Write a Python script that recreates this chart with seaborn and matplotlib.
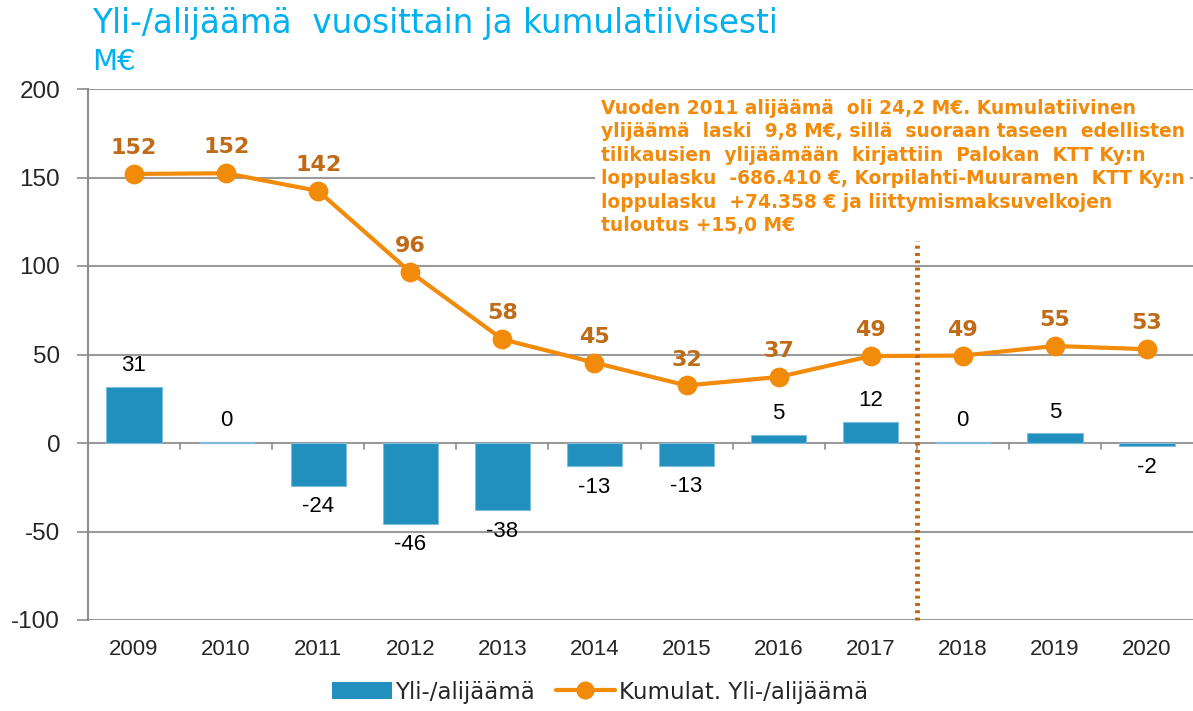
import matplotlib
matplotlib.use("Agg")
import matplotlib.pyplot as plt
import seaborn as sns
import pandas as pd
import numpy as np
from matplotlib.patches import Patch
from matplotlib.lines import Line2D

years = ["2009", "2010", "2011", "2012", "2013", "2014", "2015", "2016", "2017", "2018", "2019", "2020"]
annual = [31.6, 0.6, -24.2, -45.6, -38.0, -13.2, -12.8, 4.8, 11.8, 0.6, 5.4, -1.9]
cumulative = [152.0, 152.4, 142.4, 96.6, 58.6, 45.4, 32.5, 37.3, 49.1, 49.4, 54.8, 53.0]
annual_labels = ["31", "0", "-24", "-46", "-38", "-13", "-13", "5", "12", "0", "5", "-2"]
cum_labels = ["152", "152", "142", "96", "58", "45", "32", "37", "49", "49", "55", "53"]
yticks = [-100, -50, 0, 50, 100, 150, 200]

title = "Yli-/alijäämä  vuosittain ja kumulatiivisesti"
unit = "M€"
note = ("Vuoden 2011 alijäämä  oli 24,2 M€. Kumulatiivinen\n"
        "ylijäämä  laski  9,8 M€, sillä  suoraan taseen  edellisten\n"
        "tilikausien  ylijäämään  kirjattiin  Palokan  KTT Ky:n\n"
        "loppulasku  -686.410 €, Korpilahti-Muuramen  KTT Ky:n\n"
        "loppulasku  +74.358 € ja liittymismaksuvelkojen\n"
        "tuloutus +15,0 M€")
bar_name = "Yli-/alijäämä"
line_name = "Kumulat. Yli-/alijäämä"

df = pd.DataFrame({"year": years, "annual": annual, "cumulative": cumulative})

sns.set_theme(style="white")
plt.rcParams["font.family"] = ["DejaVu Sans"]

BAR = "#2190BE"
LINE = "#F28A0A"
LBL = "#BF6B18"

fig = plt.figure(figsize=(11.93, 7.11), dpi=100)
ax = fig.add_axes([88 / 1193, 1 - 620 / 711, 1 - 88 / 1193, (620 - 89) / 711])

sns.barplot(data=df, x="year", y="annual", color=BAR, width=0.6, ax=ax,
            saturation=1, edgecolor="#7FBCD9", linewidth=0.8, zorder=2)
sns.pointplot(data=df, x="year", y="cumulative", color=LINE, ax=ax,
              markers="o", markersize=12, linewidth=3)

ax.set_ylim(-100, 200)
ax.set_xlim(-0.5, 11.5)
ax.set_yticks(yticks)
ax.set_yticklabels([str(v) for v in yticks], fontsize=17.5, family="Liberation Sans")
ax.set_xticks(range(len(years)))
ax.set_xticklabels(years, fontsize=16, family="Liberation Sans")
ax.set_xlabel("")
ax.set_ylabel("")
ax.tick_params(axis="x", length=0, pad=14)
ax.tick_params(axis="y", length=8, width=1.2, color="#8c8c8c", pad=12, left=True)
for s in ["top", "right", "bottom"]:
    ax.spines[s].set_visible(False)
ax.spines["left"].set_color("#8c8c8c")
ax.spines["left"].set_linewidth(1.5)

for v in yticks:
    ax.axhline(v, color="#9a9a9a", lw=1.5, zorder=0)
for i in range(1, len(years)):
    ax.plot([i - 0.5, i - 0.5], [0, -3.5], color="#8c8c8c", lw=1.2, zorder=1)

for i, (v, t) in enumerate(zip(annual, annual_labels)):
    if v >= 0:
        ax.text(i, v + 6, t, ha="center", va="bottom", fontsize=16, color="black",
                family="Liberation Sans")
    else:
        ax.text(i, v - 6, t, ha="center", va="top", fontsize=16, color="black",
                family="Liberation Sans")

for i, (v, t) in enumerate(zip(cumulative, cum_labels)):
    ax.text(i, v + 9, t, ha="center", va="bottom", fontsize=16, color=LBL,
            fontweight="bold", zorder=6)

ax.plot([8.5, 8.5], [-100, 121], color="#C0650F", lw=3.5, linestyle=(0, (0.6, 0.9)),
        zorder=4, clip_on=False)

ax.text(5.07, 194.5, note, ha="left", va="top", fontsize=13.4, color=LINE,
        fontweight="bold", linespacing=1.3, zorder=5,
        bbox=dict(boxstyle="square,pad=0.3", facecolor="white", edgecolor="none"))

fig.text(92 / 1193, 1 - 24 / 711, title, fontsize=23.5, color="#00B0F0",
         va="center", ha="left", family="DejaVu Sans")
fig.text(92 / 1193, 1 - 62 / 711, unit, fontsize=21, color="#00B0F0",
         va="center", ha="left")

h = [Patch(facecolor=BAR, edgecolor="none"),
     Line2D([], [], color=LINE, lw=3, marker="o", markersize=12)]
if ax.get_legend():
    ax.get_legend().remove()
fig.legend(h, [bar_name, line_name], loc="center", bbox_to_anchor=(600 / 1193, 1 - 692 / 711),
           ncol=2, frameon=False, handlelength=2.6, handletextpad=0.15,
           columnspacing=0.9, prop={"family": "DejaVu Sans", "size": 16.5})

fig.savefig("out.png", dpi=100)
